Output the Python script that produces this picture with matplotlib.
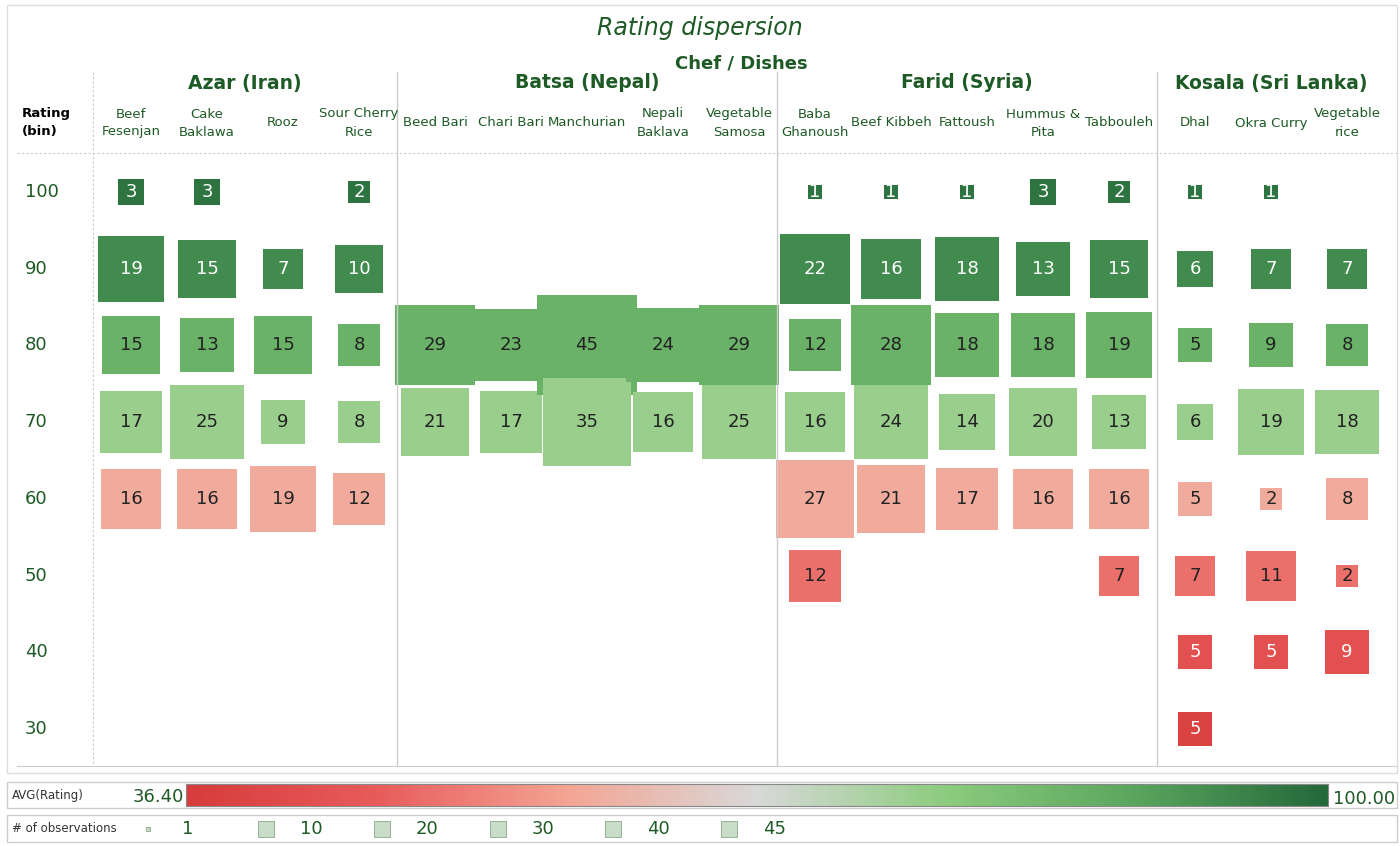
import numpy as np
import matplotlib
matplotlib.use("Agg")
import matplotlib.pyplot as plt
from matplotlib.colors import LinearSegmentedColormap, Normalize

chefs = ["Azar (Iran)", "Batsa (Nepal)", "Farid (Syria)", "Kosala (Sri Lanka)"]
chef_dishes = [
    ["Beef\nFesenjan", "Cake\nBaklawa", "Rooz", "Sour Cherry\nRice"],
    ["Beed Bari", "Chari Bari", "Manchurian", "Nepali\nBaklava", "Vegetable\nSamosa"],
    ["Baba\nGhanoush", "Beef Kibbeh", "Fattoush", "Hummus &\nPita", "Tabbouleh"],
    ["Dhal", "Okra Curry", "Vegetable\nrice"],
]
bins = [100, 90, 80, 70, 60, 50, 40, 30]
# counts per dish, ordered as bins (0 = empty)
counts = [
    [3, 19, 15, 17, 16, 0, 0, 0],
    [3, 15, 13, 25, 16, 0, 0, 0],
    [0, 7, 15, 9, 19, 0, 0, 0],
    [2, 10, 8, 8, 12, 0, 0, 0],
    [0, 0, 29, 21, 0, 0, 0, 0],
    [0, 0, 23, 17, 0, 0, 0, 0],
    [0, 0, 45, 35, 0, 0, 0, 0],
    [0, 0, 24, 16, 0, 0, 0, 0],
    [0, 0, 29, 25, 0, 0, 0, 0],
    [1, 22, 12, 16, 27, 12, 0, 0],
    [1, 16, 28, 24, 21, 0, 0, 0],
    [1, 18, 18, 14, 17, 0, 0, 0],
    [3, 13, 18, 20, 16, 0, 0, 0],
    [2, 15, 19, 13, 16, 7, 0, 0],
    [1, 6, 5, 6, 5, 7, 5, 5],
    [1, 7, 9, 19, 2, 11, 5, 0],
    [0, 7, 8, 18, 8, 2, 9, 0],
]
rmin, rmax = 36.4, 100.0
bin_avg = {100: 98, 90: 94, 80: 86, 70: 77, 60: 59, 50: 50, 40: 43, 30: 38}

cmap = LinearSegmentedColormap.from_list(
    "rg", ["#d83c3c", "#e85c5c", "#f4a594", "#d9d9d9", "#8ccc7e", "#5aa65e", "#24693a"])
norm = Normalize(rmin, rmax)

W, H = 1400, 846
fig = plt.figure(figsize=(14, 8.46), dpi=100)
green = "#1e5a26"

def fx(px): return px / W
def fy(py): return 1 - py / H

# main grid axes
ax = fig.add_axes([fx(17), fy(765), fx(1397) - fx(17), (765 - 155) / H])
ax.set_xlim(-1.5, (1397 - 131) / 76)
ax.set_ylim(30 - (765 - 729) / 7.67, 100 + (192 - 155) / 7.67)
for s in ax.spines.values():
    s.set_visible(False)
ax.set_xticks([]); ax.set_yticks([])

for i, col in enumerate(counts):
    for b, n in zip(bins, col):
        if n == 0:
            continue
        c = cmap(norm(bin_avg[b]))
        ax.scatter(i, b, s=116.6 * n, marker="s", color=c, linewidths=0, zorder=2)
        tc = "white" if bin_avg[b] >= 88 or bin_avg[b] <= 46 else "#222222"
        ax.text(i, b, str(n), ha="center", va="center", fontsize=13, color=tc, zorder=3)

for b in bins:
    ax.text(-1.4, b, str(b), ha="left", va="center", fontsize=13, color=green)

# header
fig.text(0.5, fy(28), "Rating dispersion", ha="center", va="center", fontsize=17,
         style="italic", color=green)
fig.text(fx(741), fy(63), "Chef / Dishes", ha="center", va="center", fontsize=13,
         color=green, weight="bold")
start = 0
seps = []
for ci, (chef, dishes) in enumerate(zip(chefs, chef_dishes)):
    xs = [131 + 76 * (start + k) for k in range(len(dishes))]
    fig.text(fx(np.mean(xs)), fy(83), chef, ha="center", va="center", fontsize=13.5,
             color=green, weight="semibold")
    for x, d in zip(xs, dishes):
        fig.text(fx(x), fy(123), d, ha="center", va="center", fontsize=9.5, color=green,
                 linespacing=1.5)
    start += len(dishes)
    if ci < len(chefs) - 1:
        seps.append(131 + 76 * (start - 0.5))
fig.text(fx(22), fy(123), "Rating\n(bin)", ha="left", va="center", fontsize=9.5,
         color="black", weight="bold", linespacing=1.5)

for x in seps:
    fig.add_artist(plt.Line2D([fx(x), fx(x)], [fy(72), fy(765)], color="#cccccc", lw=1))
fig.add_artist(plt.Line2D([fx(93), fx(93)], [fy(72), fy(765)], color="#cccccc", lw=0.8, ls=(0, (2, 2))))
fig.add_artist(plt.Line2D([fx(17), fx(1397)], [fy(153), fy(153)], color="#cccccc", lw=0.8, ls=(0, (2, 2))))
fig.add_artist(plt.Line2D([fx(17), fx(1397)], [fy(766), fy(766)], color="#cccccc", lw=0.8))
fig.add_artist(plt.Rectangle((fx(7), fy(773)), fx(1390), (773 - 5) / H, fill=False,
                             ec="#dddddd", lw=1))

# colour legend
fig.add_artist(plt.Rectangle((fx(7), fy(808)), fx(1390), 26 / H, fill=False, ec="#cccccc", lw=1))
fig.text(fx(12), fy(795), "AVG(Rating)", fontsize=8.5, va="center", color="#333333")
cax = fig.add_axes([fx(186), fy(806), fx(1328) - fx(186), 22 / H])
cax.imshow(np.linspace(0, 1, 300)[None, :], aspect="auto", cmap=cmap)
cax.set_xticks([]); cax.set_yticks([])
for s in cax.spines.values():
    s.set_color("#888888")
fig.text(fx(133), fy(797), "36.40", fontsize=13, va="center", color=green)
fig.text(fx(1333), fy(799), "100.00", fontsize=13, va="center", color=green)

# size legend
fig.add_artist(plt.Rectangle((fx(7), fy(842)), fx(1390), 27 / H, fill=False, ec="#cccccc", lw=1))
fig.text(fx(12), fy(828), "# of observations", fontsize=8.5, va="center", color="#333333")
lax = fig.add_axes([0, fy(842), 1, 27 / H])
lax.set_xlim(0, W); lax.set_ylim(0, 27); lax.axis("off")
for x, n in zip([148, 266, 382, 498, 613, 729], [1, 10, 20, 30, 40, 45]):
    lax.scatter(x, 13.5, s=min(116.6 * n, 230) * 0.6 if n > 1 else 12, marker="s",
                color="#c8dcc8", edgecolors="#7a9a7a", linewidths=0.5)
    lax.text(x + 34, 13.5, str(n), fontsize=13, va="center", ha="left", color=green)

fig.savefig("out.png", dpi=100)
